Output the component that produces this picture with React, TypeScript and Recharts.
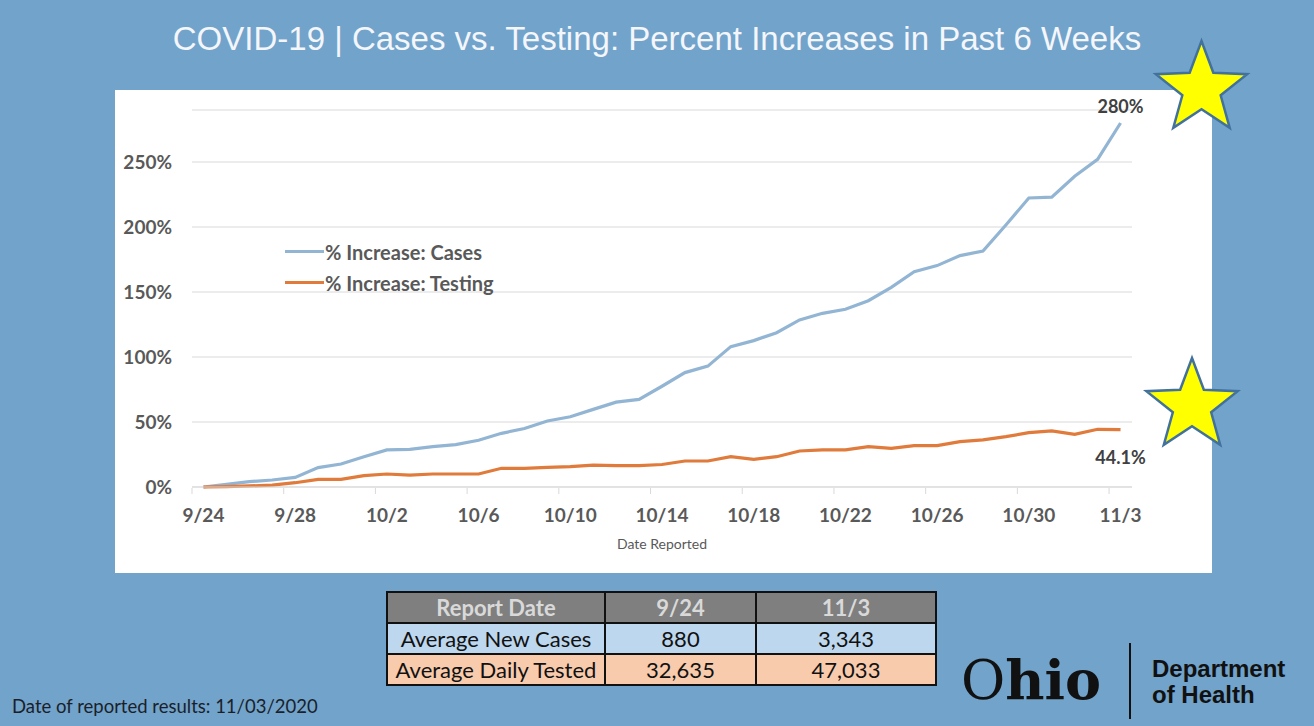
import React from "react";
import {
  CartesianGrid,
  Legend,
  LabelList,
  Line,
  LineChart,
  XAxis,
  YAxis,
} from "recharts";

const dates = [
  "9/24", "9/25", "9/26", "9/27", "9/28", "9/29", "9/30",
  "10/1", "10/2", "10/3", "10/4", "10/5", "10/6", "10/7", "10/8", "10/9", "10/10",
  "10/11", "10/12", "10/13", "10/14", "10/15", "10/16", "10/17", "10/18", "10/19", "10/20",
  "10/21", "10/22", "10/23", "10/24", "10/25", "10/26", "10/27", "10/28", "10/29", "10/30",
  "10/31", "11/1", "11/2", "11/3",
];

// % increase since 9/24
const casesPct = [
  0, 2, 4.1, 5.4, 7.4, 14.9, 17.7, 23.3, 28.5, 29, 31, 32.6, 36, 41.3, 45, 50.8, 54,
  59.7, 65.3, 67.4, 77.5, 88, 93, 108, 112.6, 118.7, 128.5, 133.6, 136.7, 143.3, 153.6,
  165.6, 170.3, 178, 181.5, 201.5, 222.3, 223, 239, 252, 280,
];
const testingPct = [
  0, 0.3, 0.8, 1.5, 3.3, 5.9, 5.9, 8.7, 10, 9.2, 10, 10, 10, 14.4, 14.4, 15.1, 15.6,
  16.9, 16.4, 16.4, 17.3, 20, 20, 23.3, 21.3, 23.3, 27.7, 28.5, 28.5, 31, 29.7,
  31.8, 31.8, 34.9, 36.2, 38.7, 41.8, 43.1, 40.5, 44.4, 44.1,
];

const yTicks = [0, 50, 100, 150, 200, 250];
const labelTicks = [0, 4, 8, 12, 16, 20, 24, 28, 32, 36, 40];
const boundaryTicks = [-0.5, 3.5, 7.5, 11.5, 15.5, 19.5, 23.5, 27.5, 31.5, 35.5, 39.5];

const tableHead = ["Report Date", "9/24", "11/3"];
const tableRows = [
  ["Average New Cases", "880", "3,343"],
  ["Average Daily Tested", "32,635", "47,033"],
];

const CASES = "#93B5D4";
const TESTING = "#E07B3C";
const BG = "#71A3CB";
const GRID = "#D9D9D9";
const AXIS_TEXT = "#595959";
const FONT = "Lato, 'Open Sans', sans-serif";

const data = dates.map((d, i) => ({
  idx: i,
  date: d,
  cases: casesPct[i],
  testing: testingPct[i],
}));
const LAST = dates.length - 1;

function DateTick(props: any) {
  const { x, y, payload } = props;
  const v = payload.value;
  if (!Number.isInteger(v)) {
    return <line x1={x} x2={x} y1={y + 1} y2={y + 7} stroke={GRID} strokeWidth={1} />;
  }
  return (
    <text
      x={x}
      y={y + 35}
      textAnchor="middle"
      fill={AXIS_TEXT}
      fontSize={19}
      fontWeight={700}
      fontFamily={FONT}
    >
      {dates[v]}
    </text>
  );
}

function endLabel(dy: number) {
  return (props: any) => {
    const { x, y, value, index } = props;
    if (index !== LAST) return null;
    const txt = Number.isInteger(value) ? `${value}%` : `${value.toFixed(1)}%`;
    return (
      <text
        x={x}
        y={y + dy}
        textAnchor="middle"
        fill="#404040"
        fontSize={18}
        fontWeight={700}
        fontFamily={FONT}
      >
        {txt}
      </text>
    );
  };
}

function LegendBox({ payload }: any) {
  return (
    <div style={{ fontFamily: FONT }}>
      {(payload ?? []).map((p: any) => (
        <div
          key={p.value}
          style={{ display: "flex", alignItems: "center", height: 31 }}
        >
          <span
            style={{
              display: "inline-block",
              width: 39,
              height: 3,
              background: p.color,
            }}
          />
          <span
            style={{
              fontSize: 20,
              fontWeight: 700,
              color: AXIS_TEXT,
              marginLeft: 1,
              whiteSpace: "nowrap",
            }}
          >
            {p.value}
          </span>
        </div>
      ))}
    </div>
  );
}

function starPoints(cx: number, cy: number, r: number, inner: number) {
  const pts: string[] = [];
  for (let i = 0; i < 10; i++) {
    const rad = i % 2 === 0 ? r : r * inner;
    const a = -Math.PI / 2 + (i * Math.PI) / 5;
    pts.push(`${cx + rad * Math.cos(a)},${cy + rad * Math.sin(a)}`);
  }
  return pts.join(" ");
}

const cell: React.CSSProperties = {
  border: "2px solid #111",
  padding: 0,
  height: 29,
  textAlign: "center",
  fontFamily: FONT,
  fontSize: 22,
  lineHeight: "29px",
  color: "#111",
};

export default function App() {
  return (
    <div
      style={{
        position: "fixed",
        left: 0,
        top: 0,
        width: 1314,
        height: 726,
        background: BG,
        overflow: "hidden",
      }}
    >
      <div
        style={{
          position: "absolute",
          left: 0,
          top: 20,
          width: 1314,
          textAlign: "center",
          color: "#F4F6FA",
          fontFamily: "'Liberation Sans', Arial, sans-serif",
          fontSize: 33,
          lineHeight: "38px",
        }}
      >
        COVID-19 | Cases vs. Testing: Percent Increases in Past 6 Weeks
      </div>

      <div
        style={{
          position: "absolute",
          left: 115,
          top: 90,
          width: 1097,
          height: 483,
          background: "#fff",
        }}
      >
        <LineChart
          width={1097}
          height={483}
          data={data}
          margin={{ top: 20, right: 80, bottom: 0, left: 0 }}
        >
          <CartesianGrid vertical={false} stroke={GRID} />
          <XAxis
            dataKey="idx"
            type="number"
            domain={[-0.5, 40.5]}
            ticks={[...boundaryTicks, ...labelTicks].sort((a, b) => a - b)}
            interval={0}
            tickLine={false}
            tickSize={0}
            tickMargin={0}
            tick={<DateTick />}
            axisLine={{ stroke: GRID }}
            height={86}
            label={{
              value: "Date Reported",
              position: "insideBottom",
              offset: 24,
              fill: AXIS_TEXT,
              fontSize: 14,
              fontFamily: FONT,
            }}
          />
          <YAxis
            type="number"
            domain={[0, 290]}
            ticks={yTicks}
            width={77}
            axisLine={false}
            tickLine={false}
            tickSize={0}
            tickMargin={20}
            tickFormatter={(v) => `${v}%`}
            tick={{ fill: AXIS_TEXT, fontSize: 19, fontWeight: 700, fontFamily: FONT }}
          />
          <Legend
            layout="vertical"
            align="center"
            verticalAlign="middle"
            content={<LegendBox />}
            wrapperStyle={{ left: 170, top: 146, width: 280, height: 62 }}
          />
          <Line
            type="linear"
            dataKey="cases"
            name="% Increase: Cases"
            stroke={CASES}
            strokeWidth={3.2}
            dot={false}
            isAnimationActive={false}
          >
            <LabelList dataKey="cases" content={endLabel(-10)} />
          </Line>
          <Line
            type="linear"
            dataKey="testing"
            name="% Increase: Testing"
            stroke={TESTING}
            strokeWidth={3.2}
            dot={false}
            isAnimationActive={false}
          >
            <LabelList dataKey="testing" content={endLabel(34)} />
          </Line>
        </LineChart>
      </div>

      <svg
        width={1314}
        height={726}
        style={{ position: "absolute", left: 0, top: 0, pointerEvents: "none" }}
      >
        <polygon
          points={starPoints(1201.5, 89, 48, 0.42)}
          fill="#FFFF00"
          stroke="#41719C"
          strokeWidth={2.5}
        />
        <polygon
          points={starPoints(1192, 406, 48, 0.42)}
          fill="#FFFF00"
          stroke="#41719C"
          strokeWidth={2.5}
        />
        <line x1={1130} x2={1130} y1={643} y2={719} stroke="#111" strokeWidth={2} />
      </svg>

      <table
        style={{
          position: "absolute",
          left: 386,
          top: 591,
          borderCollapse: "collapse",
        }}
      >
        <thead>
          <tr style={{ background: "#7F7F7F" }}>
            {tableHead.map((h, i) => (
              <th
                key={h}
                style={{
                  ...cell,
                  width: [216, 149, 178][i],
                  color: "#D9D9D9",
                  fontWeight: 700,
                }}
              >
                {h}
              </th>
            ))}
          </tr>
        </thead>
        <tbody>
          {tableRows.map((row, r) => (
            <tr key={row[0]} style={{ background: r === 0 ? "#BDD7EE" : "#F8CBAD" }}>
              {row.map((c) => (
                <td key={c} style={cell}>
                  {c}
                </td>
              ))}
            </tr>
          ))}
        </tbody>
      </table>

      <div
        style={{
          position: "absolute",
          left: 961,
          top: 650,
          fontFamily: "'DejaVu Serif', serif",
          fontSize: 54,
          lineHeight: "60px",
          color: "#111",
          letterSpacing: 0,
        }}
      >
        <span style={{ fontWeight: 400 }}>O</span>
        <span style={{ fontWeight: 700 }}>hio</span>
      </div>
      <div
        style={{
          position: "absolute",
          left: 1152,
          top: 656,
          fontFamily: "'Liberation Sans', Arial, sans-serif",
          fontSize: 24,
          fontWeight: 700,
          lineHeight: "26px",
          color: "#111",
        }}
      >
        Department
        <br />
        of Health
      </div>

      <div
        style={{
          position: "absolute",
          left: 12,
          top: 695,
          fontFamily: FONT,
          fontSize: 18.5,
          color: "#1B1F2A",
        }}
      >
        Date of reported results: 11/03/2020
      </div>
    </div>
  );
}
